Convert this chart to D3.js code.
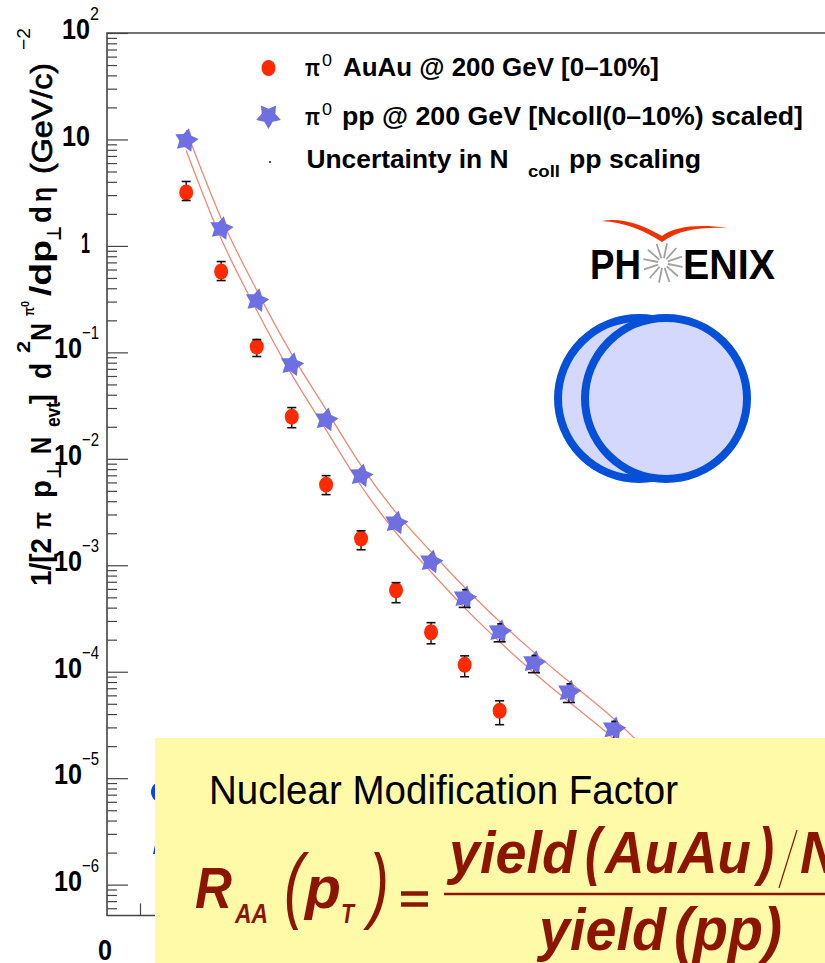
<!DOCTYPE html>
<html>
<head>
<meta charset="utf-8">
<script src="https://cdn.jsdelivr.net/npm/d3@7"></script>
<style>
  html, body { margin: 0; padding: 0; background: #fff; overflow: hidden; }
  svg { display: block; }
  text { font-family: "Liberation Sans", Arial, sans-serif; }
</style>
</head>
<body>
<script>
// pT in GeV/c, yields
const ptAuAu = [1.2, 1.73, 2.27, 2.8, 3.32, 3.85, 4.38, 4.91, 5.42, 5.95];
const yieldAuAu = [3.18, 0.575, 0.1134, 0.0249, 0.00572, 0.00178, 5.83e-4, 2.35e-4, 1.16e-4, 4.3e-5];
const errHiAuAu = [4.03, 0.713, 0.132, 0.0303, 0.00695, 0.00211, 6.87e-4, 2.89e-4, 1.41e-4, 5.33e-5];
const errLoAuAu = [2.67, 0.473, 0.0914, 0.0196, 0.00461, 0.0014, 4.45e-4, 1.83e-4, 8.97e-5, 3.18e-5];

const ptPP = [1.2, 1.73, 2.27, 2.8, 3.32, 3.85, 4.38, 4.91, 5.42, 5.95, 6.47, 7.0, 7.68];
const yieldPP = [9.8, 1.46, 0.307, 0.0768, 0.0233, 0.00695, 0.00251, 0.00108, 4.96e-4, 2.38e-4, 1.22e-4, 6.49e-5, 2.91e-5];
// only the last points have bars that stick out of the star
const errHiPP = [null, null, null, null, null, null, null, null, 5.9e-4, 2.82e-4, 1.42e-4, 7.7e-5, 3.41e-5];
const errLoPP = [null, null, null, null, null, null, null, null, 4.02e-4, 1.91e-4, 9.8e-5, 5.14e-5, 2.3e-5];

// Ncoll uncertainty band, runs on under the yellow box
const ptBand = [1.2, 1.73, 2.27, 2.8, 3.32, 3.85, 4.38, 4.91, 5.42, 5.95, 6.47, 7.0, 7.68, 8.38];
const bandHi = [12.2, 1.82, 0.382, 0.0956, 0.029, 0.00865, 0.00312, 0.00134, 6.18e-4, 2.96e-4, 1.52e-4, 8.08e-5, 3.62e-5, 1.37e-5];
const bandLo = [7.87, 1.17, 0.247, 0.0617, 0.0187, 0.00558, 0.00202, 8.67e-4, 3.98e-4, 1.91e-4, 9.8e-5, 5.21e-5, 2.34e-5, 8.8e-6];

const decadeExps = [2, 1, 0, -1, -2, -3, -4, -5, -6];
const minorMultipliers = [2, 3, 4, 5, 6, 7, 8, 9];

const width = 825;
const height = 963;

const svg = d3.select("body").append("svg")
    .attr("width", width)
    .attr("height", height);

const x = d3.scaleLinear().domain([0, 10.88]).range([107, 825]);
const y = d3.scaleLog().domain([5.13e-7, 100]).range([915.5, 33]);

const axisColor = "#444";
const red = "#ff2a00";
const starBlue = "#6e70e2";
const darkRed = "#8b1500";

// ---- axes ----
const majors = decadeExps.map(e => Math.pow(10, e));
const minors = [];
decadeExps.forEach(e => minorMultipliers.forEach(m => {
    const v = m * Math.pow(10, e - 1);
    if (v >= 5.13e-7 && v < 100) minors.push(v);
}));

const styleAxis = g => {
    g.select(".domain").remove();
    g.selectAll("line").attr("stroke", axisColor).attr("stroke-width", 1.2);
    g.selectAll("text").remove();
};

svg.append("g").attr("transform", "translate(107,0)")
    .call(d3.axisLeft(y).tickValues(majors).tickSize(-21).tickFormat(""))
    .call(styleAxis);
svg.append("g").attr("transform", "translate(107,0)")
    .call(d3.axisLeft(y).tickValues(minors).tickSize(-10).tickFormat(""))
    .call(styleAxis);
svg.append("g").attr("transform", "translate(0,915.5)")
    .call(d3.axisBottom(x).tickValues([0.5]).tickSize(-12).tickFormat(""))
    .call(styleAxis);

svg.append("path")
    .attr("d", "M825,33H107V915.5H825")
    .attr("fill", "none")
    .attr("stroke", axisColor)
    .attr("stroke-width", 1.6);

// tick labels, ROOT style: 10 with the exponent up to the right
const boldText = (parent, px, py, str, size, len) => {
    const t = parent.append("text")
        .attr("x", px).attr("y", py)
        .attr("font-size", size)
        .attr("font-weight", "bold")
        .attr("fill", "#000")
        .text(str);
    if (len) t.attr("textLength", len).attr("lengthAdjust", "spacingAndGlyphs");
    return t;
};

decadeExps.forEach(e => {
    const py = y(Math.pow(10, e));
    if (e === 0) {
        boldText(svg, 81, py + 7, "1", 30, 9);
    } else if (e === 1) {
        boldText(svg, 62, py + 7, "10", 30, 28);
    } else if (e === 2) {
        boldText(svg, 62, py + 6, "10", 30, 28);
        boldText(svg, 90, py - 13, "2", 19, 9).attr("font-weight", "normal");
    } else {
        boldText(svg, 54, py + 6, "10", 30, 28);
        boldText(svg, 82, py - 13, "\u2212" + Math.abs(e), 19, 17).attr("font-weight", "normal");
    }
});
boldText(svg, 98, 960, "0", 29, 14);

// ---- y title, placed piece by piece like the original ----
const titlePieces = [
    { t: "1/[2", px: 51, py: 586, size: 30, len: 48 },
    { t: "\u03c0", px: 51, py: 529, size: 26, len: 17 },
    { t: "p", px: 51, py: 498, size: 30, len: 18 },
    { t: "\u22a5", px: 61, py: 479, size: 20, len: 15, font: "DejaVu Sans" },
    { t: "N", px: 51, py: 454, size: 30, len: 17 },
    { t: "evt", px: 60, py: 427, size: 20, len: 25 },
    { t: "]", px: 51, py: 404, size: 30, len: 10 },
    { t: "d", px: 51, py: 379, size: 30, len: 16 },
    { t: "2", px: 30, py: 353, size: 18, len: 12 },
    { t: "N", px: 51, py: 341, size: 30, len: 18 },
    { t: "\u03c0", px: 34, py: 316, size: 15, len: 9 },
    { t: "0", px: 29, py: 307, size: 11, len: 6 },
    { t: "/dp", px: 51, py: 296, size: 30, len: 56 },
    { t: "\u22a5", px: 61, py: 241, size: 20, len: 15, font: "DejaVu Sans" },
    { t: "d", px: 51, py: 223, size: 30, len: 17 },
    { t: "\u03b7", px: 51, py: 202, size: 28, len: 15 },
    { t: "(GeV/c)", px: 52, py: 174, size: 30, len: 111, weight: "normal" },
    { t: "\u22122", px: 30, py: 50, size: 19, len: 22, weight: "normal" }
];
titlePieces.forEach(p => {
    const t = svg.append("text")
        .attr("transform", `translate(${p.px},${p.py}) rotate(-90)`)
        .attr("font-size", p.size)
        .attr("font-weight", p.weight || "bold")
        .attr("textLength", p.len)
        .attr("lengthAdjust", "spacingAndGlyphs")
        .text(p.t);
    if (p.font) t.style("font-family", p.font);
    if (p.t === "(GeV/c)") t.attr("stroke", "#000").attr("stroke-width", 0.7);
});

// ---- uncertainty band ----
const bandLine = d3.line()
    .x((d, i) => x(ptBand[i]))
    .y(d => y(d))
    .curve(d3.curveMonotoneX);

[bandHi, bandLo].forEach(b => {
    svg.append("path")
        .attr("d", bandLine(b))
        .attr("fill", "none")
        .attr("stroke", "#ec8a78")
        .attr("stroke-width", 1.3);
});

// ---- markers ----
// ROOT star is fatter than d3.symbolStar, so build it radially
const starShape = d3.lineRadial()
    .angle(d => d[0])
    .radius(d => d[1])
    .curve(d3.curveLinearClosed);
const starPath = (r) => starShape(d3.range(10).map(i => [i * Math.PI / 5, i % 2 ? r * 0.55 : r]));

const errorBars = (data) => {
    const g = svg.append("g").attr("stroke", "#111").attr("stroke-width", 1.4);
    g.selectAll("line").data(data.filter(d => d.hi !== null)).enter().append("line")
        .attr("x1", d => x(d.pt)).attr("x2", d => x(d.pt))
        .attr("y1", d => y(d.hi)).attr("y2", d => y(d.lo));
};
const errorCaps = (data, capHi, capLo) => {
    const g = svg.append("g").attr("stroke", "#111").attr("stroke-width", 1.6);
    data.filter(d => d.hi !== null).forEach(d => {
        [[d.hi, capHi], [d.lo, capLo]].forEach(([v, w]) => {
            g.append("line")
                .attr("x1", x(d.pt) - w / 2).attr("x2", x(d.pt) + w / 2)
                .attr("y1", y(v)).attr("y2", y(v));
        });
    });
};

const auau = ptAuAu.map((pt, i) => ({ pt, v: yieldAuAu[i], hi: errHiAuAu[i], lo: errLoAuAu[i] }));
const pp = ptPP.map((pt, i) => ({ pt, v: yieldPP[i], hi: errHiPP[i], lo: errLoPP[i] }));

errorBars(auau);
errorBars(pp);

svg.append("g").selectAll("ellipse").data(auau).enter().append("ellipse")
    .attr("cx", d => x(d.pt)).attr("cy", d => y(d.v))
    .attr("rx", 7).attr("ry", 8)
    .attr("fill", red);

svg.append("g").selectAll("path").data(pp).enter().append("path")
    .attr("d", starPath(12.5))
    .attr("transform", d => `translate(${x(d.pt)},${y(d.v)}) rotate(12)`)
    .attr("fill", starBlue);

errorCaps(auau, 9, 9);
errorCaps(pp, 5, 12);

// ---- legend ----
svg.append("ellipse").attr("cx", 268.5).attr("cy", 68).attr("rx", 7).attr("ry", 8).attr("fill", red);
svg.append("path").attr("d", starPath(13)).attr("transform", "translate(268.5,116) rotate(180)").attr("fill", starBlue);
svg.append("circle").attr("cx", 270).attr("cy", 162).attr("r", 0.9).attr("fill", "#000");

const legendPi = (py) => {
    svg.append("text").attr("x", 305).attr("y", py).attr("font-size", 24).attr("font-weight", "bold")
        .attr("textLength", 15).attr("lengthAdjust", "spacingAndGlyphs").text("\u03c0");
    svg.append("text").attr("x", 322).attr("y", py - 10).attr("font-size", 16)
        .attr("textLength", 10).attr("lengthAdjust", "spacingAndGlyphs").text("0");
};
legendPi(76);
boldText(svg, 343, 76, "AuAu @ 200 GeV [0\u201310%]", 25, 316);
legendPi(125);
boldText(svg, 342, 125, "pp @ 200 GeV [Ncoll(0\u201310%) scaled]", 25, 461);
boldText(svg, 306.5, 168, "Uncertainty in N", 25, 202);
boldText(svg, 528, 177, "coll", 17, 32);
boldText(svg, 569, 168, "pp scaling", 25, 132);

// ---- PHENIX logo ----
boldText(svg, 590, 279, "PH", 43, 51);
boldText(svg, 683, 279, "ENIX", 43, 92);
const logo = svg.append("g").attr("transform", "translate(663,263)");
logo.selectAll("line").data(d3.range(12)).enter().append("line")
    .attr("x1", d => 5 * Math.cos(d * Math.PI / 6 + 0.2))
    .attr("y1", d => 5 * Math.sin(d * Math.PI / 6 + 0.2))
    .attr("x2", d => 20 * Math.cos(d * Math.PI / 6 + 0.2))
    .attr("y2", d => 20 * Math.sin(d * Math.PI / 6 + 0.2))
    .attr("stroke", "#a0a0a0")
    .attr("stroke-width", 1.8);
svg.append("path")
    .attr("d", "M601.5,221C622,217 645,226 662,236C675,226 700,224 727,228C702,227 680,229 662,242C645,231 625,222 601.5,221Z")
    .attr("fill", "#f03000");

// ---- colliding nuclei ----
[639, 666].forEach(cx => {
    svg.append("ellipse")
        .attr("cx", cx).attr("cy", 398.5)
        .attr("rx", 81).attr("ry", 80.5)
        .attr("fill", "#d5d8fd")
        .attr("stroke", "#0450d8")
        .attr("stroke-width", 8);
});

// ---- bits of blue text peeking out left of the box ----
svg.append("ellipse").attr("cx", 164).attr("cy", 792).attr("rx", 11).attr("ry", 9.5)
    .attr("fill", "none").attr("stroke", "#1040f0").attr("stroke-width", 4);
svg.append("path").attr("d", "M153,854L155,845L156,854Z").attr("fill", "#1040f0");

// ---- yellow box with the RAA definition ----
svg.append("rect")
    .attr("x", 155).attr("y", 738)
    .attr("width", 670).attr("height", 225)
    .attr("fill", "#fffaa8");

svg.append("text").attr("x", 209).attr("y", 804).attr("font-size", 40)
    .attr("textLength", 469).attr("lengthAdjust", "spacingAndGlyphs")
    .attr("fill", "#000")
    .text("Nuclear Modification Factor");

const mathPieces = [
    { t: "R", px: 195, py: 908, size: 58, len: 37 },
    { t: "AA", px: 235, py: 923, size: 27, len: 33 },
    { t: "(", px: 284, py: 913, size: 84, len: 20, thin: true },
    { t: "p", px: 305, py: 908, size: 60, len: 36 },
    { t: "T", px: 341, py: 923, size: 27, len: 13 },
    { t: ")", px: 369, py: 913, size: 84, len: 20, thin: true },
    { t: "yield", px: 449, py: 873, size: 60, len: 127 },
    { t: "(", px: 585, py: 873, size: 64, len: 16 },
    { t: "AuAu", px: 605, py: 873, size: 60, len: 146 },
    { t: ")", px: 758, py: 873, size: 64, len: 16 },
    { t: "N", px: 800, py: 873, size: 60, len: 40 },
    { t: "yield", px: 539, py: 950, size: 60, len: 127 },
    { t: "(pp)", px: 674, py: 950, size: 62, len: 108 }
];
mathPieces.forEach(p => {
    svg.append("text")
        .attr("x", p.px).attr("y", p.py)
        .attr("font-size", p.size)
        .attr("font-weight", p.thin ? "normal" : "bold")
        .attr("font-style", "italic")
        .attr("fill", darkRed)
        .attr("textLength", p.len)
        .attr("lengthAdjust", "spacingAndGlyphs")
        .text(p.t);
});
// equals sign, fraction bar and the thin slash
svg.append("g").attr("stroke", darkRed).attr("fill", "none")
    .selectAll("path")
    .data([
        { d: "M401,893.5H428M401,904.5H428", w: 4.5 },
        { d: "M444,894H825", w: 2.5 },
        { d: "M779,888L797,830", w: 1.2 }
    ])
    .enter().append("path")
    .attr("d", d => d.d)
    .attr("stroke-width", d => d.w);
</script>
</body>
</html>
